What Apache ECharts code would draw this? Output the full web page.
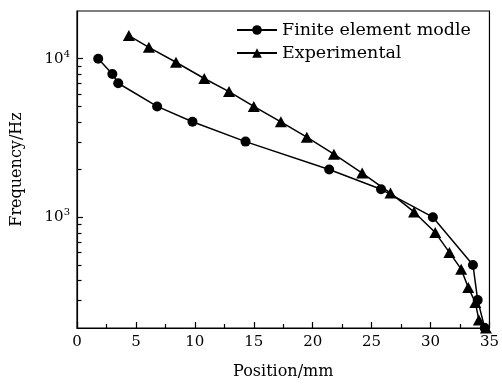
<!DOCTYPE html>
<html>
<head>
<meta charset="utf-8">
<script src="https://cdn.jsdelivr.net/npm/echarts@6/dist/echarts.min.js"></script>
<style>html,body{margin:0;padding:0;background:#fff}#c{width:502px;height:385px}</style>
</head>
<body>
<div id="c"></div>
<script>
// Finite element model: [position (mm), frequency (Hz)]
var femPos  = [1.8, 3.0, 3.5, 6.8, 9.8, 14.3, 21.4, 25.8, 30.2, 33.6, 34.0, 34.6];
var femFreq = [10000, 8000, 7000, 5000, 4000, 3000, 2000, 1500, 1000, 500, 300, 200];
// Experimental
var expPos  = [4.4, 6.1, 8.4, 10.8, 12.9, 15.0, 17.3, 19.5, 21.8, 24.2, 26.6, 28.6, 30.4, 31.6, 32.6, 33.2, 33.8, 34.1, 34.7];
var expFreq = [14000, 11800, 9500, 7500, 6200, 5000, 4000, 3200, 2500, 1900, 1420, 1080, 800, 600, 470, 360, 290, 225, 200];
var seriesNames = ['Finite element modle', 'Experimental'];
var xTicks = [0, 5, 10, 15, 20, 25, 30, 35];
var yMinorTicks = [300, 400, 500, 600, 700, 800, 900, 2000, 3000, 4000, 5000, 6000, 7000, 8000, 9000];

function zip(a, b) { return a.map(function (v, i) { return [v, b[i]]; }); }

var FONT = 'DejaVu Serif';
var chart = echarts.init(document.getElementById('c'));
chart.setOption({
  animation: false,
  textStyle: { fontFamily: FONT, color: '#000' },
  grid: { left: 77, right: 9, top: 11, bottom: 57, show: true, borderColor: '#000', borderWidth: 1.2 },
  legend: {
    data: seriesNames,
    orient: 'vertical',
    left: 231, top: 16,
    itemWidth: 40, itemHeight: 12, itemGap: 5,
    textStyle: { fontFamily: FONT, fontSize: 17.5, color: '#000' }
  },
  xAxis: {
    type: 'value', min: 0, max: 35, interval: 5,
    name: 'Position/mm', nameLocation: 'middle', nameGap: 36,
    nameTextStyle: { fontFamily: FONT, fontSize: 16, color: '#000' },
    axisLine: { lineStyle: { color: '#000', width: 1.2 } },
    axisTick: { inside: true, length: 6, lineStyle: { color: '#000', width: 1.2 } },
    minorTick: { show: true, splitNumber: 2, length: 4, lineStyle: { color: '#000', width: 1.2 } },
    axisLabel: { fontFamily: FONT, fontSize: 15, color: '#000', margin: 7,
      formatter: function (v) { return xTicks.indexOf(v) >= 0 ? String(v) : ''; } },
    splitLine: { show: false }
  },
  yAxis: {
    type: 'log', logBase: 10, min: 200, max: 20000,
    name: 'Frequency/Hz', nameLocation: 'middle', nameGap: 52,
    nameTextStyle: { fontFamily: FONT, fontSize: 16, color: '#000' },
    axisLine: { lineStyle: { color: '#000', width: 1.2 } },
    axisTick: { inside: true, length: 6, lineStyle: { color: '#000', width: 1.2 } },
    axisLabel: {
      showMinLabel: false, showMaxLabel: false, margin: 7,
      fontFamily: FONT, fontSize: 15, color: '#000',
      formatter: function (v) {
        var e = Math.round(Math.log10(v));
        if (Math.abs(Math.pow(10, e) - v) < 1e-6 * v) return '10{s|' + e + '}';
        return '';
      },
      rich: { s: { fontFamily: FONT, fontSize: 10, verticalAlign: 'bottom', padding: [0, 0, 9, 0], color: '#000' } }
    },
    splitLine: { show: false }
  },
  series: [
    {
      name: seriesNames[0], type: 'line', data: zip(femPos, femFreq),
      symbol: 'circle', symbolSize: 10,
      lineStyle: { color: '#000', width: 1.5 },
      itemStyle: { color: '#000' }, z: 3
    },
    {
      name: seriesNames[1], type: 'line', data: zip(expPos, expFreq),
      symbol: 'triangle', symbolSize: [12, 11],
      lineStyle: { color: '#000', width: 1.5 },
      itemStyle: { color: '#000' }, z: 3
    }
  ]
});

// minor ticks of the logarithmic frequency axis, placed through the axis scale
var x0 = chart.convertToPixel({ xAxisIndex: 0 }, 0);
var minorEls = yMinorTicks.map(function (v) {
  var y = Math.round(chart.convertToPixel({ yAxisIndex: 0 }, v)) + 0.5;
  return {
    type: 'line', z: 100,
    shape: { x1: x0, y1: y, x2: x0 + 4.5, y2: y },
    style: { stroke: '#000', lineWidth: 1.2 }
  };
});
chart.setOption({ graphic: minorEls });
</script>
</body>
</html>
